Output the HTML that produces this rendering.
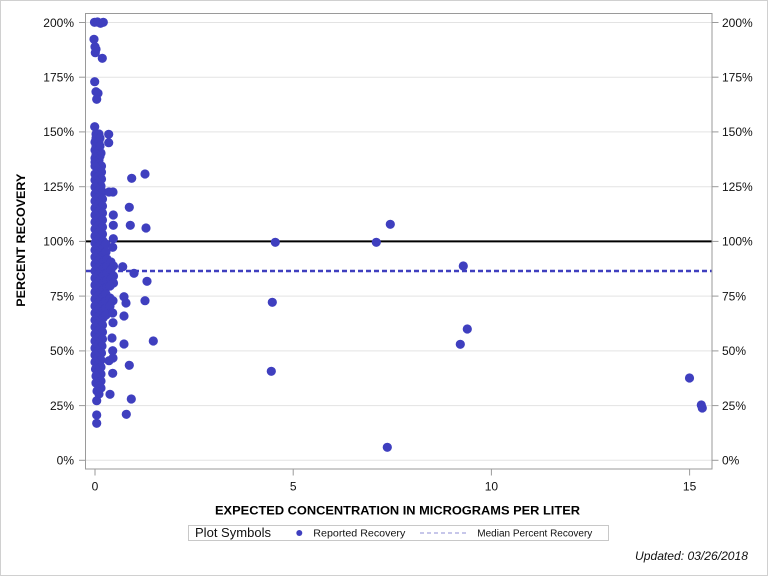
<!DOCTYPE html>
<html><head><meta charset="utf-8"><style>
html,body{margin:0;padding:0;background:#fff;}
svg{display:block;font-family:"Liberation Sans",Arial,sans-serif;}
</style></head><body>
<svg width="768" height="576" viewBox="0 0 768 576" xmlns="http://www.w3.org/2000/svg">
<rect x="0.5" y="0.5" width="767" height="575" fill="#fff" stroke="#d0d0d0"/>
<!-- gridlines -->
<g stroke="#e3e3e3" stroke-width="1">
<line x1="86" x2="712" y1="460.3" y2="460.3"/>
<line x1="86" x2="712" y1="405.6" y2="405.6"/>
<line x1="86" x2="712" y1="350.9" y2="350.9"/>
<line x1="86" x2="712" y1="296.1" y2="296.1"/>
<line x1="86" x2="712" y1="241.4" y2="241.4"/>
<line x1="86" x2="712" y1="186.7" y2="186.7"/>
<line x1="86" x2="712" y1="131.9" y2="131.9"/>
<line x1="86" x2="712" y1="77.2" y2="77.2"/>
<line x1="86" x2="712" y1="22.5" y2="22.5"/>
</g>
<!-- reference lines -->
<line x1="86" x2="712" y1="241.4" y2="241.4" stroke="#000" stroke-width="2"/>
<line x1="86" x2="712" y1="271" y2="271" stroke="#3F3FBF" stroke-width="2.5" stroke-dasharray="5 3"/>
<!-- points -->
<g fill="#3F3FBF">
<circle cx="94.5" cy="22.3" r="4.6"/><circle cx="97.5" cy="22" r="4.6"/><circle cx="100.5" cy="23.3" r="4.6"/><circle cx="103.3" cy="22.3" r="4.6"/>
<circle cx="94" cy="39.3" r="4.6"/><circle cx="95" cy="46.7" r="4.6"/><circle cx="96" cy="49.3" r="4.6"/><circle cx="95.3" cy="52.7" r="4.6"/><circle cx="102.3" cy="58.3" r="4.6"/>
<circle cx="94.7" cy="81.7" r="4.6"/><circle cx="96" cy="91.7" r="4.6"/><circle cx="98" cy="93.3" r="4.6"/><circle cx="96.7" cy="99.3" r="4.6"/>
<circle cx="94.7" cy="126.7" r="4.6"/><circle cx="108.7" cy="134.3" r="4.6"/><circle cx="108.7" cy="142.7" r="4.6"/>
<circle cx="96" cy="134" r="4.6"/><circle cx="99" cy="134" r="4.6"/>
<circle cx="96" cy="138" r="4.6"/><circle cx="100" cy="138" r="4.6"/>
<circle cx="95" cy="142" r="4.6"/><circle cx="99" cy="142" r="4.6"/>
<circle cx="96" cy="146" r="4.6"/><circle cx="100" cy="146" r="4.6"/>
<circle cx="95" cy="150" r="4.6"/><circle cx="99" cy="150" r="4.6"/><circle cx="101" cy="153" r="4.6"/>
<circle cx="96" cy="154" r="4.6"/><circle cx="100" cy="156" r="4.6"/>
<circle cx="95" cy="158" r="4.6"/><circle cx="99" cy="160" r="4.6"/>
<circle cx="95" cy="162" r="4.6"/><circle cx="99" cy="164" r="4.6"/><circle cx="101.5" cy="166" r="4.6"/>
<circle cx="95" cy="166" r="4.6"/><circle cx="98" cy="170" r="4.6"/><circle cx="101.5" cy="172" r="4.6"/>
<circle cx="95" cy="174" r="4.6"/><circle cx="99" cy="176" r="4.6"/><circle cx="101.5" cy="179" r="4.6"/>
<circle cx="95" cy="180" r="4.6"/><circle cx="98" cy="183" r="4.6"/><circle cx="101" cy="186" r="4.6"/>
<circle cx="95" cy="187" r="4.6"/><circle cx="99" cy="190" r="4.6"/><circle cx="102.5" cy="192" r="4.6"/>
<circle cx="95" cy="194" r="4.6"/><circle cx="99" cy="197" r="4.6"/><circle cx="102.5" cy="199" r="4.6"/>
<circle cx="95" cy="201" r="4.6"/><circle cx="99" cy="204" r="4.6"/><circle cx="102.5" cy="206" r="4.6"/>
<circle cx="95" cy="208" r="4.6"/><circle cx="99" cy="211" r="4.6"/><circle cx="102.5" cy="213" r="4.6"/>
<circle cx="95" cy="215" r="4.6"/><circle cx="99" cy="218" r="4.6"/><circle cx="102.5" cy="220" r="4.6"/>
<circle cx="95" cy="222" r="4.6"/><circle cx="99" cy="225" r="4.6"/><circle cx="102.5" cy="227" r="4.6"/>
<circle cx="95" cy="229" r="4.6"/><circle cx="99" cy="232" r="4.6"/><circle cx="102.5" cy="234" r="4.6"/>
<circle cx="95" cy="236" r="4.6"/><circle cx="99" cy="239" r="4.6"/><circle cx="103" cy="241" r="4.6"/>
<circle cx="95" cy="243" r="4.6"/><circle cx="99" cy="246" r="4.6"/><circle cx="103" cy="248" r="4.6"/><circle cx="106" cy="244" r="4.6"/>
<circle cx="95" cy="250" r="4.6"/><circle cx="99" cy="253" r="4.6"/><circle cx="103" cy="255" r="4.6"/><circle cx="106" cy="252" r="4.6"/>
<circle cx="95" cy="257" r="4.6"/><circle cx="99" cy="260" r="4.6"/><circle cx="103" cy="262" r="4.6"/><circle cx="107" cy="259" r="4.6"/>
<circle cx="95" cy="264" r="4.6"/><circle cx="99" cy="267" r="4.6"/><circle cx="103" cy="269" r="4.6"/><circle cx="107" cy="266" r="4.6"/>
<circle cx="95" cy="271" r="4.6"/><circle cx="99" cy="274" r="4.6"/><circle cx="103" cy="276" r="4.6"/><circle cx="107" cy="273" r="4.6"/>
<circle cx="95" cy="278" r="4.6"/><circle cx="99" cy="281" r="4.6"/><circle cx="103" cy="283" r="4.6"/><circle cx="107" cy="280" r="4.6"/>
<circle cx="95" cy="285" r="4.6"/><circle cx="99" cy="288" r="4.6"/><circle cx="103" cy="290" r="4.6"/><circle cx="107" cy="287" r="4.6"/>
<circle cx="95" cy="292" r="4.6"/><circle cx="99" cy="295" r="4.6"/><circle cx="103" cy="297" r="4.6"/><circle cx="106" cy="294" r="4.6"/>
<circle cx="95" cy="299" r="4.6"/><circle cx="99" cy="302" r="4.6"/><circle cx="103" cy="304" r="4.6"/><circle cx="106" cy="301" r="4.6"/>
<circle cx="95" cy="306" r="4.6"/><circle cx="99" cy="309" r="4.6"/><circle cx="103" cy="311" r="4.6"/><circle cx="106" cy="308" r="4.6"/>
<circle cx="95" cy="313" r="4.6"/><circle cx="99" cy="316" r="4.6"/><circle cx="103" cy="318" r="4.6"/><circle cx="106" cy="315" r="4.6"/>
<circle cx="95" cy="320" r="4.6"/><circle cx="99" cy="323" r="4.6"/><circle cx="102.5" cy="325" r="4.6"/>
<circle cx="95" cy="327" r="4.6"/><circle cx="99" cy="330" r="4.6"/><circle cx="102.5" cy="332" r="4.6"/>
<circle cx="95" cy="334" r="4.6"/><circle cx="99" cy="337" r="4.6"/><circle cx="102.5" cy="339" r="4.6"/>
<circle cx="95" cy="341" r="4.6"/><circle cx="99" cy="344" r="4.6"/><circle cx="102" cy="346" r="4.6"/>
<circle cx="95" cy="348" r="4.6"/><circle cx="98" cy="351" r="4.6"/><circle cx="101.5" cy="353" r="4.6"/>
<circle cx="95" cy="355" r="4.6"/><circle cx="98" cy="358" r="4.6"/><circle cx="101" cy="360" r="4.6"/>
<circle cx="95" cy="362" r="4.6"/><circle cx="98" cy="365" r="4.6"/><circle cx="101" cy="367" r="4.6"/>
<circle cx="95.5" cy="369" r="4.6"/><circle cx="98" cy="372" r="4.6"/><circle cx="101" cy="374" r="4.6"/>
<circle cx="96" cy="376" r="4.6"/><circle cx="98.5" cy="379" r="4.6"/><circle cx="101" cy="381" r="4.6"/>
<circle cx="96" cy="383" r="4.6"/><circle cx="99" cy="386" r="4.6"/><circle cx="101" cy="388" r="4.6"/>
<circle cx="97" cy="391" r="4.6"/><circle cx="99" cy="394" r="4.6"/>
<!-- extras right of column -->
<circle cx="111" cy="262" r="4.6"/><circle cx="113.5" cy="266" r="4.6"/><circle cx="111" cy="270" r="4.6"/><circle cx="113.5" cy="276" r="4.6"/><circle cx="111" cy="279" r="4.6"/><circle cx="113.5" cy="283" r="4.6"/><circle cx="110" cy="286" r="4.6"/>
<circle cx="110" cy="298" r="4.6"/><circle cx="113" cy="300.7" r="4.6"/><circle cx="110" cy="306" r="4.6"/><circle cx="112.7" cy="313" r="4.6"/><circle cx="113" cy="322.7" r="4.6"/>
<circle cx="131.7" cy="178.3" r="4.6"/><circle cx="145" cy="174" r="4.6"/>
<circle cx="113" cy="192" r="4.6"/><circle cx="109" cy="192" r="4.6"/>
<circle cx="129.3" cy="207.3" r="4.6"/><circle cx="113.3" cy="215" r="4.6"/>
<circle cx="113.3" cy="225.3" r="4.6"/><circle cx="130.3" cy="225.3" r="4.6"/><circle cx="146" cy="228" r="4.6"/>
<circle cx="113.3" cy="238.7" r="4.6"/><circle cx="112.7" cy="247.3" r="4.6"/>
<circle cx="122.7" cy="266.7" r="4.6"/><circle cx="134" cy="273.3" r="4.6"/><circle cx="147" cy="281.3" r="4.6"/>
<circle cx="124" cy="296.7" r="4.6"/><circle cx="126" cy="303" r="4.6"/><circle cx="145" cy="300.7" r="4.6"/>
<circle cx="124" cy="316" r="4.6"/>
<circle cx="112" cy="338" r="4.6"/><circle cx="124" cy="344" r="4.6"/><circle cx="153.3" cy="341" r="4.6"/>
<circle cx="112.7" cy="350.7" r="4.6"/><circle cx="113" cy="358" r="4.6"/><circle cx="109" cy="360.7" r="4.6"/><circle cx="129.3" cy="365.3" r="4.6"/>
<circle cx="112.7" cy="373.3" r="4.6"/>
<circle cx="110" cy="394.3" r="4.6"/><circle cx="131.3" cy="399" r="4.6"/><circle cx="96.7" cy="400.7" r="4.6"/>
<circle cx="126.3" cy="414.3" r="4.6"/><circle cx="96.7" cy="415" r="4.6"/><circle cx="96.7" cy="423.3" r="4.6"/>
<!-- far points -->
<circle cx="275.3" cy="242.3" r="4.6"/><circle cx="376.3" cy="242.3" r="4.6"/><circle cx="390.3" cy="224.3" r="4.6"/>
<circle cx="463.3" cy="266" r="4.6"/><circle cx="272.3" cy="302.3" r="4.6"/><circle cx="467.3" cy="329" r="4.6"/>
<circle cx="460.3" cy="344.3" r="4.6"/><circle cx="271.3" cy="371.3" r="4.6"/><circle cx="387.3" cy="447.3" r="4.6"/>
<circle cx="689.5" cy="378" r="4.6"/><circle cx="701.3" cy="405" r="4.6"/><circle cx="702.3" cy="408" r="4.6"/>
</g>
<!-- frame -->
<rect x="85.5" y="13.5" width="626.5" height="455.5" fill="none" stroke="#9a9a9a" stroke-width="1"/>
<!-- ticks -->
<g stroke="#9a9a9a" stroke-width="1">
<line x1="79" x2="85.5" y1="460.3" y2="460.3"/><line x1="79" x2="85.5" y1="405.6" y2="405.6"/><line x1="79" x2="85.5" y1="350.9" y2="350.9"/><line x1="79" x2="85.5" y1="296.1" y2="296.1"/><line x1="79" x2="85.5" y1="241.4" y2="241.4"/><line x1="79" x2="85.5" y1="186.7" y2="186.7"/><line x1="79" x2="85.5" y1="131.9" y2="131.9"/><line x1="79" x2="85.5" y1="77.2" y2="77.2"/><line x1="79" x2="85.5" y1="22.5" y2="22.5"/>
<line x1="712" x2="718.5" y1="460.3" y2="460.3"/><line x1="712" x2="718.5" y1="405.6" y2="405.6"/><line x1="712" x2="718.5" y1="350.9" y2="350.9"/><line x1="712" x2="718.5" y1="296.1" y2="296.1"/><line x1="712" x2="718.5" y1="241.4" y2="241.4"/><line x1="712" x2="718.5" y1="186.7" y2="186.7"/><line x1="712" x2="718.5" y1="131.9" y2="131.9"/><line x1="712" x2="718.5" y1="77.2" y2="77.2"/><line x1="712" x2="718.5" y1="22.5" y2="22.5"/>
<line x1="95" x2="95" y1="469" y2="475.5"/><line x1="293.2" x2="293.2" y1="469" y2="475.5"/><line x1="491.4" x2="491.4" y1="469" y2="475.5"/><line x1="689.6" x2="689.6" y1="469" y2="475.5"/>
</g>
<!-- tick labels -->
<g font-size="12" fill="#111" text-anchor="end">
<text x="74" y="464.6">0%</text><text x="74" y="409.9">25%</text><text x="74" y="355.2">50%</text><text x="74" y="300.4">75%</text><text x="74" y="245.7">100%</text><text x="74" y="191">125%</text><text x="74" y="136.2">150%</text><text x="74" y="81.5">175%</text><text x="74" y="26.8">200%</text>
</g>
<g font-size="12" fill="#111">
<text x="722" y="464.6">0%</text><text x="722" y="409.9">25%</text><text x="722" y="355.2">50%</text><text x="722" y="300.4">75%</text><text x="722" y="245.7">100%</text><text x="722" y="191">125%</text><text x="722" y="136.2">150%</text><text x="722" y="81.5">175%</text><text x="722" y="26.8">200%</text>
</g>
<g font-size="12" fill="#111" text-anchor="middle">
<text x="95" y="490.5">0</text><text x="293.2" y="490.5">5</text><text x="491.4" y="490.5">10</text><text x="689.6" y="490.5">15</text>
</g>
<!-- axis labels -->
<text x="215" y="514.7" font-size="12" font-weight="bold" fill="#000" textLength="365" lengthAdjust="spacingAndGlyphs">EXPECTED CONCENTRATION IN MICROGRAMS PER LITER</text>
<text transform="translate(25,306.7) rotate(-90)" x="0" y="0" font-size="12" font-weight="bold" fill="#000" textLength="133" lengthAdjust="spacingAndGlyphs">PERCENT RECOVERY</text>
<!-- legend -->
<rect x="188.5" y="525.5" width="420" height="15" fill="#fff" stroke="#c8c8c8"/>
<text x="195" y="537" font-size="12.5" fill="#111" textLength="76" lengthAdjust="spacingAndGlyphs">Plot Symbols</text>
<circle cx="299.3" cy="533" r="3" fill="#3F3FBF"/>
<text x="313.3" y="536.5" font-size="10" fill="#111" textLength="92" lengthAdjust="spacingAndGlyphs">Reported Recovery</text>
<line x1="420" x2="467" y1="533" y2="533" stroke="#8f8fd6" stroke-width="1" stroke-dasharray="4 3"/>
<text x="477.3" y="536.5" font-size="10" fill="#111" textLength="115" lengthAdjust="spacingAndGlyphs">Median Percent Recovery</text>
<!-- footnote -->
<text x="635" y="560" font-size="12" font-style="italic" fill="#111" textLength="113" lengthAdjust="spacingAndGlyphs">Updated: 03/26/2018</text>
</svg>
</body></html>
